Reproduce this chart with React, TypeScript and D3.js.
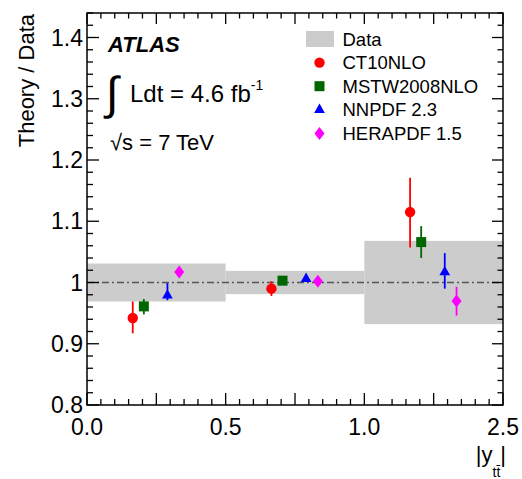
import * as d3 from 'd3';
import React from 'react';

// bins of |y_ttbar|, drawn with equal width
const binLabels = ['0.0', '0.5', '1.0', '2.5'];
const dataUnc = [0.031, 0.019, 0.068]; // relative uncertainty of data per bin

const seriesNames = ['CT10NLO', 'MSTW2008NLO', 'NNPDF 2.3', 'HERAPDF 1.5'];
const seriesColors = ['#ff0000', '#006600', '#0000ff', '#ff00ff'];
const seriesOffset = [0.33, 0.41, 0.58, 0.665]; // where in the bin each prediction sits

const ct10 = [0.942, 0.990, 1.115];
const ct10Up = [0.027, 0.012, 0.056];
const ct10Dn = [0.025, 0.012, 0.058];
const mstw = [0.961, 1.003, 1.066];
const mstwUp = [0.012, 0.006, 0.026];
const mstwDn = [0.013, 0.006, 0.026];
const nnpdf = [0.979, 1.006, 1.017];
const nnpdfUp = [0.020, 0.005, 0.031];
const nnpdfDn = [0.008, 0.005, 0.027];
const hera = [1.017, 1.002, 0.970];
const heraUp = [0.008, 0.005, 0.023];
const heraDn = [0.008, 0.005, 0.024];

const values = [ct10, mstw, nnpdf, hera];
const errUp = [ct10Up, mstwUp, nnpdfUp, heraUp];
const errDn = [ct10Dn, mstwDn, nnpdfDn, heraDn];

const params = {
  left: 87,
  right: 503,
  top: 13,
  bottom: 405,
  font: '"Liberation Sans", Arial, Helvetica, sans-serif',
};

const marker = (kind: number, x: number, y: number, color: string) => {
  if (kind === 0) return <circle cx={x} cy={y} r={5.2} fill={color} />;
  if (kind === 1) return <rect x={x - 5} y={y - 5} width={10} height={10} fill={color} />;
  if (kind === 2)
    return (
      <path
        transform={`translate(${x},${y})`}
        d={d3.symbol(d3.symbolTriangle, 50)() || ''}
        fill={color}
      />
    );
  return <path d={`M${x},${y - 6.5}L${x + 5},${y}L${x},${y + 6.5}L${x - 5},${y}Z`} fill={color} />;
};

export default function App() {
  const x = d3.scaleLinear().domain([0, binLabels.length - 1]).range([params.left, params.right]);
  const y = d3.scaleLinear().domain([0.8, 1.44]).range([params.bottom, params.top]);

  const yTicks = d3.range(40, 73).map((i) => ({ v: i / 50, major: i % 5 === 0 }));
  const xTicks = d3.range(0, 31).map((i) => ({ v: i / 10, major: i % 5 === 0 }));

  const legendRows = ['Data', ...seriesNames];

  return (
    <svg
      width={522}
      height={479}
      style={{ position: 'absolute', left: 0, top: 0, background: 'white' }}
      fontFamily={params.font}
    >
      {/* data uncertainty band */}
      {dataUnc.map((u, b) => (
        <rect
          key={'band' + b}
          x={x(b)}
          width={x(b + 1) - x(b)}
          y={y(1 + u)}
          height={y(1 - u) - y(1 + u)}
          fill="#cccccc"
        />
      ))}
      <line
        x1={params.left}
        x2={params.right}
        y1={y(1)}
        y2={y(1)}
        stroke="#555"
        strokeWidth={1.3}
        strokeDasharray="7 3 2 3"
      />

      {/* predictions */}
      {values.map((vals, s) => (
        <g key={seriesNames[s]}>
          {vals.map((v, b) => {
            const px = x(b + seriesOffset[s]);
            return (
              <g key={b}>
                <line
                  x1={px}
                  x2={px}
                  y1={y(v + errUp[s][b])}
                  y2={y(v - errDn[s][b])}
                  stroke={seriesColors[s]}
                  strokeWidth={1.8}
                />
                {marker(s, px, y(v), seriesColors[s])}
              </g>
            );
          })}
        </g>
      ))}

      {/* frame and ticks */}
      <rect
        x={params.left}
        y={params.top}
        width={params.right - params.left}
        height={params.bottom - params.top}
        fill="none"
        stroke="#000"
        strokeWidth={1.5}
      />
      <g stroke="#000" strokeWidth={1.3}>
        {yTicks.map((t) => (
          <g key={'y' + t.v}>
            <line x1={params.left} x2={params.left + (t.major ? 12 : 6)} y1={y(t.v)} y2={y(t.v)} />
            <line x1={params.right} x2={params.right - (t.major ? 11 : 5.5)} y1={y(t.v)} y2={y(t.v)} />
          </g>
        ))}
        {xTicks.map((t) => (
          <g key={'x' + t.v}>
            <line x1={x(t.v)} x2={x(t.v)} y1={params.bottom} y2={params.bottom - (t.major ? 12 : 6)} />
            <line x1={x(t.v)} x2={x(t.v)} y1={params.top} y2={params.top + (t.major ? 11 : 5.5)} />
          </g>
        ))}
      </g>

      {/* tick labels */}
      <g fontSize={23} fill="#000">
        {yTicks
          .filter((t) => t.major)
          .map((t) => (
            <text key={'yl' + t.v} x={params.left - 4} y={y(t.v) + 8} textAnchor="end">
              {t.v === 1 ? '1' : d3.format('.1f')(t.v)}
            </text>
          ))}
        {binLabels.map((l, i) => (
          <text key={'xl' + l} x={x(i)} y={435} textAnchor="middle">
            {l}
          </text>
        ))}
      </g>

      {/* axis titles */}
      <text transform="translate(34,14) rotate(-90)" textAnchor="end" fontSize={22}>
        Theory / Data
      </text>
      <text x={506} y={462} textAnchor="end" fontSize={22}>
        |y
        <tspan fontSize={14} dy={15}>
          tt̄
        </tspan>
        <tspan dy={-15}>|</tspan>
      </text>

      {/* labels */}
      <text x={108} y={52} fontSize={22} fontWeight="bold" fontStyle="italic">
        ATLAS
      </text>
      <text x={106} y={109} fontSize={46}>
        ∫
      </text>
      <text x={130} y={102} fontSize={24}>
        Ldt = 4.6 fb
        <tspan fontSize={14} dy={-12}>
          -1
        </tspan>
      </text>
      <text x={110} y={150} fontSize={22}>
        √s = 7 TeV
      </text>

      {/* legend */}
      {legendRows.map((name, i) => {
        const cy = 39 + i * 23.6;
        return (
          <g key={name}>
            {i === 0 ? (
              <rect x={306} y={cy - 8} width={28} height={16} fill="#cccccc" />
            ) : (
              marker(i - 1, 319.5, cy, seriesColors[i - 1])
            )}
            <text x={342.5} y={cy + 6.5} fontSize={18.5}>
              {name}
            </text>
          </g>
        );
      })}
    </svg>
  );
}
